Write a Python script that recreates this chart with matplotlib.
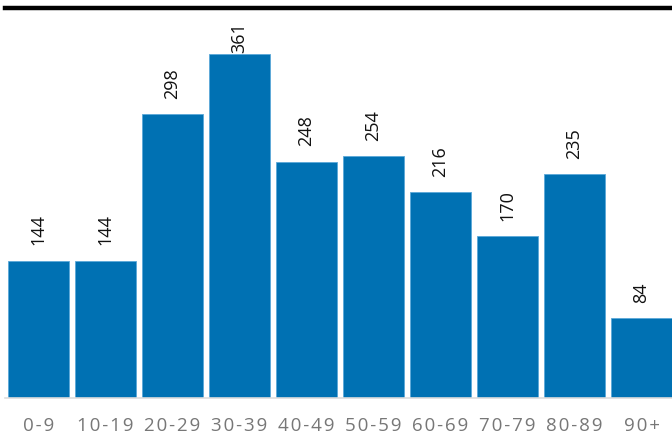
import matplotlib.pyplot as plt

age_groups = ['0-9', '10-19', '20-29', '30-39', '40-49', '50-59', '60-69', '70-79', '80-89', '90+']
counts = [144, 144, 298, 361, 248, 254, 216, 170, 235, 84]


def spaced(label: str) -> str:
    return '\u200a'.join(label)


def main() -> None:
    fig = plt.figure(figsize=(6.72, 4.34), dpi=100)
    ax = fig.add_axes([5 / 672, 36 / 434, 670 / 672, 390 / 434])

    x = list(range(len(age_groups)))
    ax.bar(x, counts, width=0.91, color='#0071b3', edgecolor='#5aa8d8', linewidth=0.6)
    ax.set_xlim(-0.5, 9.5)
    ax.set_ylim(0, 409)

    for xi, v in zip(x, counts):
        # labels that would run into the top rule sit on the bar instead
        off = 11 if v < 330 else 0.5
        ax.annotate(str(v), (xi, v), xytext=(0, off), textcoords='offset points',
                    rotation=90, ha='center', va='bottom', fontsize=13,
                    family='Open Sans', color='#111111')

    ax.set_xticks(x)
    ax.set_xticklabels([spaced(a) for a in age_groups], fontsize=13.5,
                       family='Open Sans', color='#777777')
    ax.tick_params(axis='x', length=0, pad=14)
    ax.set_yticks([])

    for side in ['left', 'right']:
        ax.spines[side].set_visible(False)
    ax.spines['top'].set_linewidth(3.2)
    ax.spines['top'].set_color('black')
    ax.spines['bottom'].set_color('#dddddd')
    ax.spines['bottom'].set_linewidth(1.2)

    fig.savefig('out.png', dpi=100)
    plt.close(fig)


if __name__ == '__main__':
    main()
